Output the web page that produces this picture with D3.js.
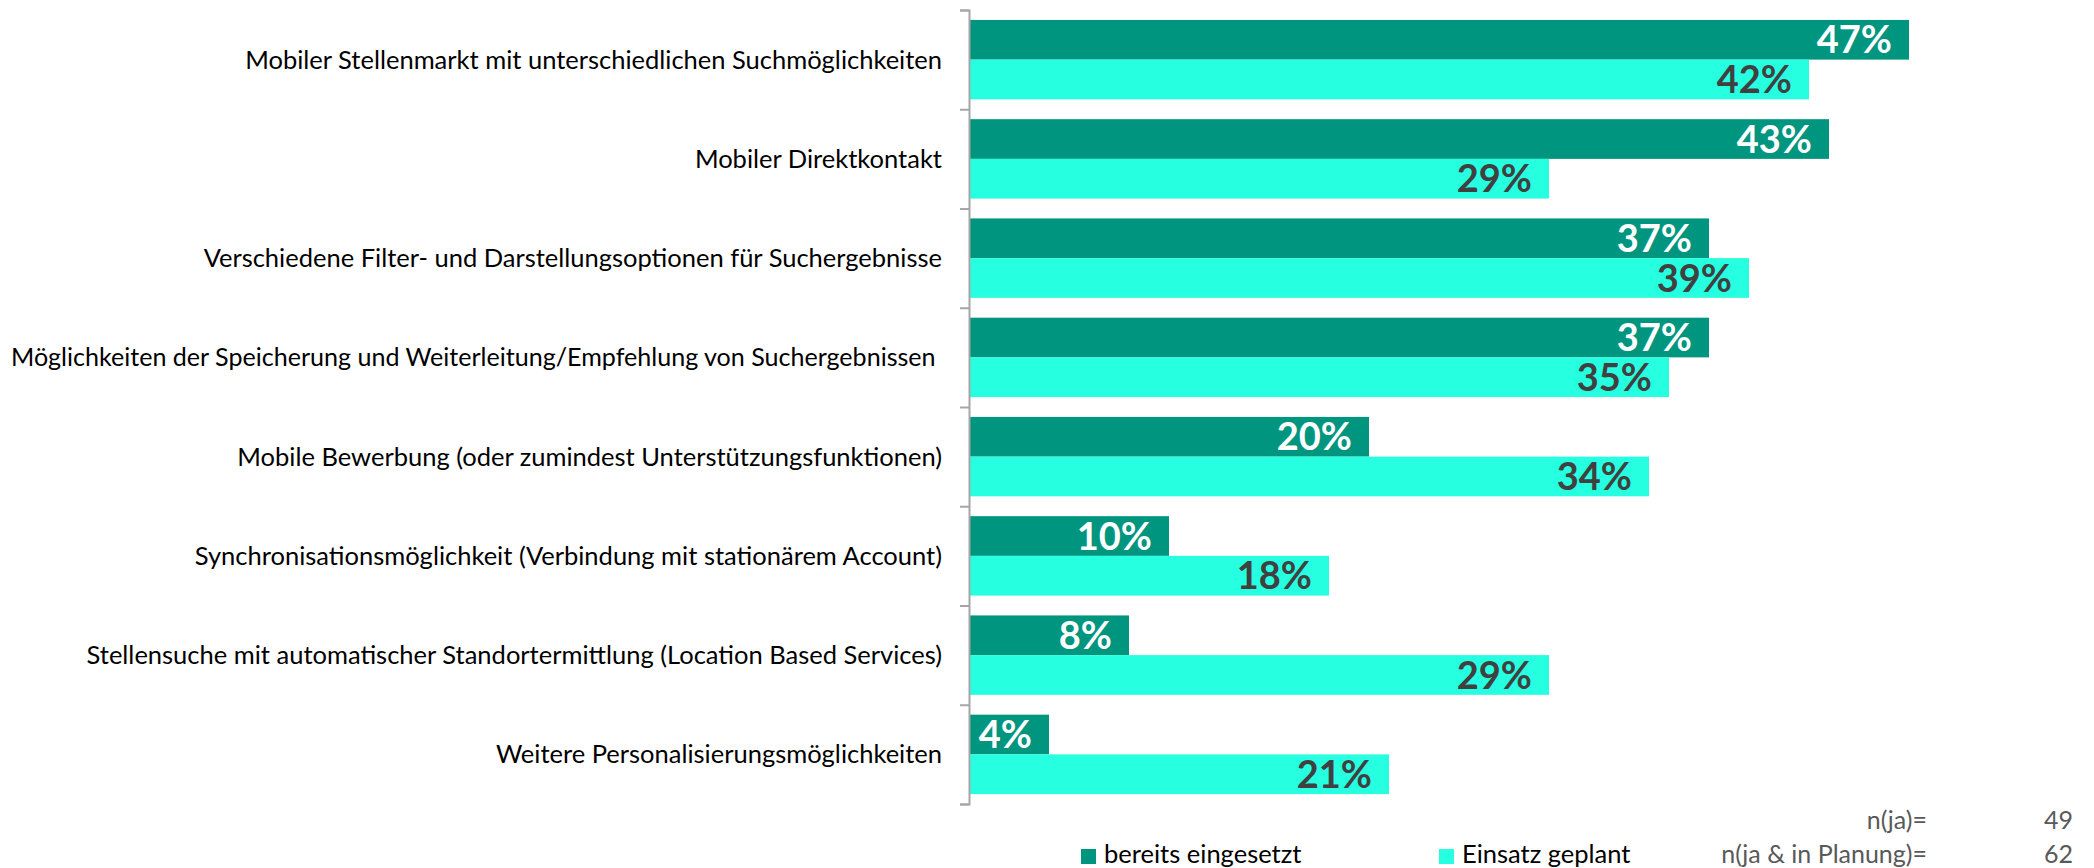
<!DOCTYPE html>
<html>
<head>
<meta charset="utf-8">
<script src="https://cdn.jsdelivr.net/npm/d3@7"></script>
<style>
  body { margin: 0; background: #fff; }
  svg { display: block; font-family: Lato, "Open Sans", sans-serif; }
  .cat-label { font-size: 25.5px; fill: #000; }
  .val-label { font-size: 38px; font-weight: 700; }
  .legend-text { font-size: 25.5px; fill: #000; }
  .n-text { font-size: 25px; fill: #595959; }
</style>
</head>
<body>
<div id="chart"></div>
<script>
var width = 2094, height = 868;

var categories = [
  'Mobiler Stellenmarkt mit unterschiedlichen Suchmöglichkeiten',
  'Mobiler Direktkontakt',
  'Verschiedene Filter- und Darstellungsoptionen für Suchergebnisse',
  'Möglichkeiten der Speicherung und Weiterleitung/Empfehlung von Suchergebnissen ',
  'Mobile Bewerbung (oder zumindest Unterstützungsfunktionen)',
  'Synchronisationsmöglichkeit (Verbindung mit stationärem Account)',
  'Stellensuche mit automatischer Standortermittlung (Location Based Services)',
  'Weitere Personalisierungsmöglichkeiten'
];
var bereits = [47, 43, 37, 37, 20, 10, 8, 4];
var geplant = [42, 29, 39, 35, 34, 18, 29, 21];
var seriesNames = ['bereits eingesetzt', 'Einsatz geplant'];
var seriesColors = ['#00957f', '#26ffe0'];
var labelColors = ['#ffffff', '#404040'];
var nLabels = ['n(ja)=', 'n(ja & in Planung)='];
var nValues = [49, 62];

var plot = {left: 969, top: 10, bottom: 804};
var labelGap = 27;
var labelMaxW = plot.left - labelGap - 11; // left edge of longest label sits at ~11px

var svg = d3.select('#chart').append('svg')
  .attr('width', width)
  .attr('height', height);

var x = d3.scaleLinear().domain([0, 50]).range([plot.left, plot.left + 1000]);
var y = d3.scaleBand().domain(categories).range([plot.top, plot.bottom]).padding(0);
var ySub = d3.scaleBand().domain([0, 1]).range([0, y.bandwidth()])
  .paddingInner(0).paddingOuter(0.25);

// rows: one group per category
var rows = categories.map(function (c, i) {
  return {cat: c, values: [bereits[i], geplant[i]]};
});

var row = svg.selectAll('g.row')
  .data(rows)
  .enter()
  .append('g')
  .attr('class', 'row')
  .attr('transform', d => `translate(0, ${y(d.cat)})`);

row.selectAll('rect')
  .data(d => d.values.map((v, k) => ({k: k, v: v})))
  .enter()
  .append('rect')
  .attr('x', x(0))
  .attr('y', d => ySub(d.k))
  .attr('width', d => x(d.v) - x(0))
  .attr('height', ySub.bandwidth())
  .style('fill', d => seriesColors[d.k]);

row.selectAll('text.val-label')
  .data(d => d.values.map((v, k) => ({k: k, v: v})))
  .enter()
  .append('text')
  .attr('class', 'val-label')
  .attr('x', d => x(d.v) - 17)
  .attr('y', d => ySub(d.k) + ySub.bandwidth() / 2)
  .attr('dy', '0.36em')
  .attr('text-anchor', 'end')
  .style('fill', d => labelColors[d.k])
  .text(d => d.v + '%');

// category labels
svg.selectAll('text.cat-label')
  .data(categories)
  .enter()
  .append('text')
  .attr('class', 'cat-label')
  .attr('x', plot.left - labelGap)
  .attr('y', d => y(d) + y.bandwidth() / 2)
  .attr('dy', '0.35em')
  .attr('text-anchor', 'end')
  .style('white-space', 'pre')
  .text(d => d)
  .each(function () {
    // squeeze labels that would run off the left edge
    var w = this.getComputedTextLength();
    if (w > labelMaxW) {
      d3.select(this)
        .attr('textLength', labelMaxW)
        .attr('lengthAdjust', 'spacingAndGlyphs');
    }
  });

// axis with ticks at the category boundaries
var yEdge = d3.scaleLinear().domain([0, categories.length]).range([plot.top, plot.bottom]);
var yAxis = d3.axisLeft(yEdge)
  .tickValues(d3.range(categories.length + 1))
  .tickSize(9)
  .tickFormat('');
var axisG = svg.append('g')
  .attr('transform', `translate(${plot.left}, 0)`)
  .call(yAxis);
axisG.selectAll('path, line')
  .style('stroke', '#a6a6a6')
  .style('stroke-width', 2);

// legend
var legend = svg.selectAll('g.legend')
  .data(seriesNames)
  .enter()
  .append('g')
  .attr('class', 'legend')
  .attr('transform', (d, i) => `translate(${[1081, 1439][i]}, 849)`);
legend.append('rect')
  .attr('width', 15)
  .attr('height', 15)
  .style('fill', (d, i) => seriesColors[i]);
legend.append('text')
  .attr('class', 'legend-text')
  .attr('x', 23)
  .attr('y', 14)
  .text(d => d);

// sample sizes
var nG = svg.selectAll('g.n')
  .data(nLabels)
  .enter()
  .append('g')
  .attr('class', 'n')
  .attr('transform', (d, i) => `translate(0, ${[829, 863][i]})`);
nG.append('text')
  .attr('class', 'n-text')
  .attr('x', 1927)
  .attr('text-anchor', 'end')
  .text(d => d);
nG.append('text')
  .attr('class', 'n-text')
  .attr('x', 2073)
  .attr('text-anchor', 'end')
  .text((d, i) => nValues[i]);
</script>
</body>
</html>
